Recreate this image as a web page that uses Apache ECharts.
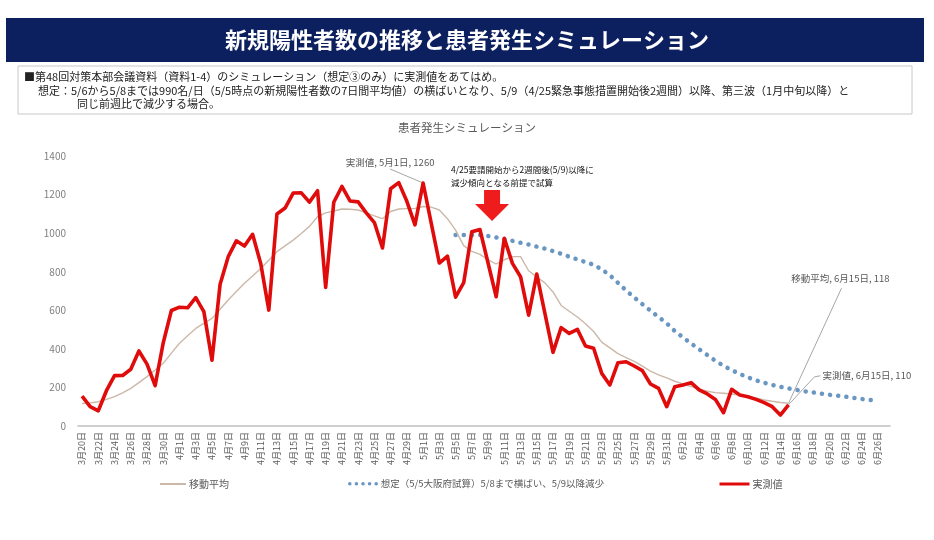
<!DOCTYPE html>
<html><head><meta charset="utf-8">
<script src="https://cdn.jsdelivr.net/npm/echarts@6/dist/echarts.min.js"></script>
<style>html,body{margin:0;padding:0;background:#fff}#c{width:934px;height:540px}</style>
</head><body><div id="c"></div>
<script>
const categories = [
'3月20日','3月21日','3月22日','3月23日','3月24日','3月25日','3月26日','3月27日','3月28日','3月29日','3月30日','3月31日',
'4月1日','4月2日','4月3日','4月4日','4月5日','4月6日','4月7日','4月8日','4月9日','4月10日','4月11日','4月12日','4月13日','4月14日','4月15日','4月16日','4月17日','4月18日','4月19日','4月20日','4月21日','4月22日','4月23日','4月24日','4月25日','4月26日','4月27日','4月28日','4月29日','4月30日',
'5月1日','5月2日','5月3日','5月4日','5月5日','5月6日','5月7日','5月8日','5月9日','5月10日','5月11日','5月12日','5月13日','5月14日','5月15日','5月16日','5月17日','5月18日','5月19日','5月20日','5月21日','5月22日','5月23日','5月24日','5月25日','5月26日','5月27日','5月28日','5月29日','5月30日','5月31日',
'6月1日','6月2日','6月3日','6月4日','6月5日','6月6日','6月7日','6月8日','6月9日','6月10日','6月11日','6月12日','6月13日','6月14日','6月15日','6月16日','6月17日','6月18日','6月19日','6月20日','6月21日','6月22日','6月23日','6月24日','6月25日','6月26日','6月27日'];

// 実測値 3/20 - 6/15
const actual = [155,100,79,183,261,262,294,389,321,209,432,599,
616,613,666,593,341,735,878,960,933,994,843,601,1099,1130,1208,1209,1161,1220,719,1160,1242,1167,1162,1105,1055,923,1230,1262,1165,1043,
1260,1052,845,881,668,743,1007,1019,845,670,973,843,774,575,788,584,382,510,480,501,415,403,273,213,328,333,311,287,218,195,100,
204,213,225,187,166,138,69,190,161,152,138,121,100,57,110];

// 移動平均 3/20 - 6/15
const movingAvg = [117,120,126,138,152,172,195,225,256,290,325,378,
429,468,506,532,558,605,653,697,740,778,817,860,904,934,964,998,1035,1085,1105,1115,1125,1124,1120,1105,1090,1075,1112,1125,1127,1128,
1138,1135,1120,1075,1016,935,905,890,862,840,862,878,878,805,772,742,695,625,595,565,530,490,435,405,375,355,335,310,285,265,250,
232,218,205,190,180,173,170,166,160,152,145,135,128,122,118];

// 想定 5/5 - 6/26
const simStart = '5月5日';
const simulation = [990,990,990,990,985,978,968,960,950,941,930,920,907,893,878,864,850,836,812,782,742,703,667,632,598,565,533,
492,460,428,398,368,338,312,290,270,252,237,224,213,203,195,187,180,174,168,162,157,152,146,140,135,130];

const yTicks = {min:0, max:1400, interval:200};

const simIdx = categories.indexOf(simStart);
const simData = categories.map((c,i)=> (i>=simIdx && i-simIdx<simulation.length) ? simulation[i-simIdx] : null);

const FONT = '"Noto Sans CJK JP", "Noto Sans", sans-serif';
const chart = echarts.init(document.getElementById('c'));
const nameMA = '移動平均';
const nameSim = '想定（5/5大阪府試算）5/8まで横ばい、5/9以降減少';
const nameAct = '実測値';
const legText = {fontSize:10, color:'#595959', fontFamily:FONT, padding:[0,0,0,-2]};

chart.setOption({
  animation:false,
  textStyle:{fontFamily:FONT},
  grid:{left:78, right:44, top:156, bottom:114, containLabel:false},
  xAxis:{type:'category', data:categories, boundaryGap:true,
    axisLine:{lineStyle:{color:'#bfbfbf', width:1.5}},
    axisTick:{show:false},
    axisLabel:{interval:1, rotate:90, fontSize:9, color:'#595959', margin:6, fontFamily:FONT}},
  yAxis:{type:'value', min:yTicks.min, max:yTicks.max, interval:yTicks.interval,
    splitLine:{show:false}, axisLine:{show:false}, axisTick:{show:false},
    axisLabel:{fontSize:10, color:'#7f7f7f', margin:12, fontFamily:FONT, formatter:v=>String(v)}},
  legend:[
    {data:[nameMA], left:154, top:474, itemWidth:26, itemHeight:10, itemStyle:{opacity:0}, lineStyle:{width:2}, textStyle:legText},
    {data:[nameSim], left:343, top:474, itemWidth:28, itemHeight:10, itemStyle:{opacity:0}, lineStyle:{width:3.5, type:[0.1,6.5], cap:'round'}, textStyle:Object.assign({}, legText, {fontSize:9.5})},
    {data:[nameAct], left:713, top:474, itemWidth:30, itemHeight:10, itemStyle:{opacity:0}, lineStyle:{width:3}, textStyle:legText}
  ],
  series:[
    {name:nameMA, type:'line', data:movingAvg, symbol:'none', lineStyle:{color:'#cbb8a8', width:1.4}, itemStyle:{color:'#cbb8a8'}, z:2},
    {name:nameSim, type:'line', data:simData, symbol:'none', connectNulls:false,
      lineStyle:{color:'#6a97c2', width:4.5, type:[0.1,8.1], cap:'round'}, itemStyle:{color:'#6a97c2'}, z:1},
    {name:nameAct, type:'line', data:actual, symbol:'none', lineStyle:{color:'#e00b0b', width:3.6, join:'round'}, itemStyle:{color:'#e00b0b'}, z:3}
  ]
});

function px(cat, v){ return chart.convertToPixel({xAxisIndex:0, yAxisIndex:0}, [cat, v]); }
const p51 = px('5月1日', actual[categories.indexOf('5月1日')]);
const p59 = px('5月9日', simulation[categories.indexOf('5月9日')-simIdx]);
const pMA = px('6月15日', movingAvg[categories.indexOf('6月15日')]);
const pAc = px('6月15日', actual[categories.indexOf('6月15日')]);

chart.setOption({graphic:[
  {type:'rect', shape:{x:6,y:18,width:918,height:44}, style:{fill:'#0c1f5e'}},
  {type:'text', x:467, y:40, style:{text:'新規陽性者数の推移と患者発生シミュレーション', fill:'#fff', font:'bold 22px '+FONT, textAlign:'center', textVerticalAlign:'middle'}},
  {type:'rect', shape:{x:18,y:66,width:894,height:48}, style:{fill:'#fff', stroke:'#c8c8c8', lineWidth:1}},
  {type:'text', x:24, y:77, style:{text:'■第48回対策本部会議資料（資料1-4）のシミュレーション（想定③のみ）に実測値をあてはめ。', fill:'#222', font:'11px '+FONT, textVerticalAlign:'middle'}},
  {type:'text', x:38, y:91, style:{text:'想定：5/6から5/8までは990名/日（5/5時点の新規陽性者数の7日間平均値）の横ばいとなり、5/9（4/25緊急事態措置開始後2週間）以降、第三波（1月中旬以降）と', fill:'#222', font:'11px '+FONT, textVerticalAlign:'middle'}},
  {type:'text', x:77, y:104, style:{text:'同じ前週比で減少する場合。', fill:'#222', font:'11px '+FONT, textVerticalAlign:'middle'}},
  {type:'text', x:467, y:128, style:{text:'患者発生シミュレーション', fill:'#595959', font:'11.5px '+FONT, textAlign:'center', textVerticalAlign:'middle'}},
  // annotation 5/1
  {type:'line', shape:{x1:p51[0]-33, y1:p51[1]-14, x2:p51[0], y2:p51[1]}, style:{stroke:'#a6a6a6', lineWidth:1}},
  {type:'text', x:p51[0]-33, y:p51[1]-21, style:{text:'実測値, 5月1日, 1260', fill:'#595959', font:'9.5px '+FONT, textAlign:'center', textVerticalAlign:'middle'}},
  // note + arrow
  {type:'text', x:p59[0]-37, y:p59[1]-66, style:{text:'4/25要請開始から2週間後(5/9)以降に', fill:'#111', font:'8.5px '+FONT, textVerticalAlign:'middle'}},
  {type:'text', x:p59[0]-37, y:p59[1]-53, style:{text:'減少傾向となる前提で試算', fill:'#111', font:'8.5px '+FONT, textVerticalAlign:'middle'}},
  {type:'polygon', shape:{points:[
    [p59[0]-4,p59[1]-46],[p59[0]+12,p59[1]-46],[p59[0]+12,p59[1]-32],[p59[0]+21,p59[1]-32],
    [p59[0]+4,p59[1]-15],[p59[0]-13,p59[1]-32],[p59[0]-4,p59[1]-32]]}, style:{fill:'#ee1c1c'}},
  // annotations 6/15
  {type:'line', shape:{x1:pMA[0]+53, y1:pMA[1]-115, x2:pMA[0], y2:pMA[1]}, style:{stroke:'#a6a6a6', lineWidth:1}},
  {type:'text', x:pMA[0]+101, y:pMA[1]-125, style:{text:'移動平均, 6月15日, 118', fill:'#595959', font:'9.5px '+FONT, textAlign:'right', textVerticalAlign:'middle'}},
  {type:'polyline', shape:{points:[[pAc[0]+32,pAc[1]-29],[pAc[0]+26,pAc[1]-28],[pAc[0],pAc[1]]]}, style:{stroke:'#a6a6a6', lineWidth:1, fill:null}},
  {type:'text', x:pAc[0]+34, y:pAc[1]-29, style:{text:'実測値, 6月15日, 110', fill:'#595959', font:'9.5px '+FONT, textVerticalAlign:'middle'}}
]});
</script></body></html>
